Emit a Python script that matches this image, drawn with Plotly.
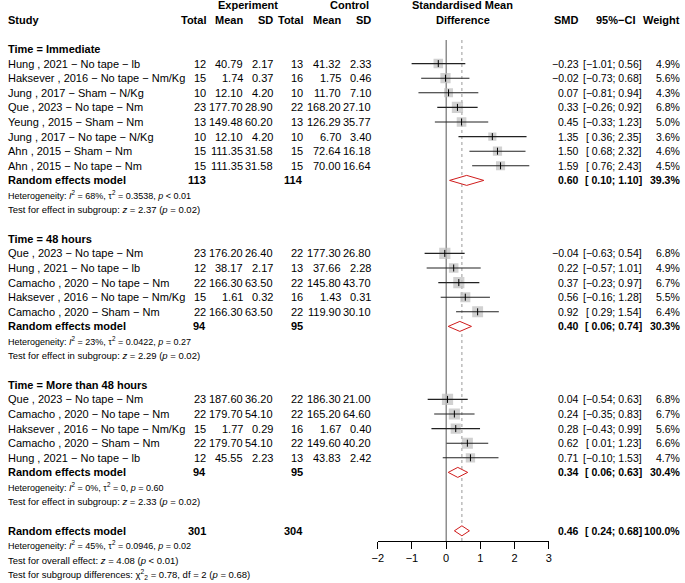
import plotly.graph_objects as go

W, H = 685, 583
FONT = "Liberation Sans, Arial, sans-serif"

# ---------------- data ----------------
group_titles = ["Time = Immediate", "Time = 48 hours", "Time = More than 48 hours"]

study_labels = [
    ["Hung , 2021 \u2212 No tape \u2212 lb", "Haksever , 2016 \u2212 No tape \u2212 Nm/Kg",
     "Jung , 2017 \u2212 Sham \u2212 N/Kg", "Que , 2023 \u2212 No tape \u2212 Nm",
     "Yeung , 2015 \u2212 Sham \u2212 Nm", "Jung , 2017 \u2212 No tape \u2212 N/Kg",
     "Ahn , 2015 \u2212 Sham \u2212 Nm", "Ahn , 2015 \u2212 No tape \u2212 Nm"],
    ["Que , 2023 \u2212 No tape \u2212 Nm", "Hung , 2021 \u2212 No tape \u2212 lb",
     "Camacho , 2020 \u2212 No tape \u2212 Nm", "Haksever , 2016 \u2212 No tape \u2212 Nm/Kg",
     "Camacho , 2020 \u2212 Sham \u2212 Nm"],
    ["Que , 2023 \u2212 No tape \u2212 Nm", "Camacho , 2020 \u2212 No tape \u2212 Nm",
     "Haksever , 2016 \u2212 No tape \u2212 Nm/Kg", "Camacho , 2020 \u2212 Sham \u2212 Nm",
     "Hung , 2021 \u2212 No tape \u2212 lb"],
]
exp_total = [[12, 15, 10, 23, 13, 10, 15, 15], [23, 12, 22, 15, 22], [23, 22, 15, 22, 12]]
exp_mean = [[40.79, 1.74, 12.10, 177.70, 149.48, 12.10, 111.35, 111.35],
            [176.20, 38.17, 166.30, 1.61, 166.30],
            [187.60, 179.70, 1.77, 179.70, 45.55]]
exp_sd = [[2.17, 0.37, 4.20, 28.90, 60.20, 4.20, 31.58, 31.58],
          [26.40, 2.17, 63.50, 0.32, 63.50],
          [36.20, 54.10, 0.29, 54.10, 2.23]]
ctl_total = [[13, 16, 10, 22, 13, 10, 15, 15], [22, 13, 22, 16, 22], [22, 22, 16, 22, 13]]
ctl_mean = [[41.32, 1.75, 11.70, 168.20, 126.29, 6.70, 72.64, 70.00],
            [177.30, 37.66, 145.80, 1.43, 119.90],
            [186.30, 165.20, 1.67, 149.60, 43.83]]
ctl_sd = [[2.33, 0.46, 7.10, 27.10, 35.77, 3.40, 16.18, 16.64],
          [26.80, 2.28, 43.70, 0.31, 30.10],
          [21.00, 64.60, 0.40, 40.20, 2.42]]
smd = [[-0.23, -0.02, 0.07, 0.33, 0.45, 1.35, 1.50, 1.59],
       [-0.04, 0.22, 0.37, 0.56, 0.92],
       [0.04, 0.24, 0.28, 0.62, 0.71]]
ci_lo = [[-1.01, -0.73, -0.81, -0.26, -0.33, 0.36, 0.68, 0.76],
         [-0.63, -0.57, -0.23, -0.16, 0.29],
         [-0.54, -0.35, -0.43, 0.01, -0.10]]
ci_hi = [[0.56, 0.68, 0.94, 0.92, 1.23, 2.35, 2.32, 2.43],
         [0.54, 1.01, 0.97, 1.28, 1.54],
         [0.63, 0.83, 0.99, 1.23, 1.53]]
weight = [[4.9, 5.6, 4.3, 6.8, 5.0, 3.6, 4.6, 4.5],
          [6.8, 4.9, 6.7, 5.5, 6.4],
          [6.8, 6.7, 5.6, 6.6, 4.7]]

grp_exp_total = [113, 94, 94]
grp_ctl_total = [114, 95, 95]
grp_smd = [0.60, 0.40, 0.34]
grp_lo = [0.10, 0.06, 0.06]
grp_hi = [1.10, 0.74, 0.63]
grp_weight = [39.3, 30.3, 30.4]
grp_het = ["<i>I</i><sup>2</sup> = 68%, \u03c4<sup>2</sup> = 0.3538, <i>p</i> &lt; 0.01",
           "<i>I</i><sup>2</sup> = 23%, \u03c4<sup>2</sup> = 0.0422, <i>p</i> = 0.27",
           "<i>I</i><sup>2</sup> = 0%, \u03c4<sup>2</sup> = 0, <i>p</i> = 0.60"]
grp_test = ["<i>z</i> = 2.37 (<i>p</i> = 0.02)",
            "<i>z</i> = 2.29 (<i>p</i> = 0.02)",
            "<i>z</i> = 2.33 (<i>p</i> = 0.02)"]

all_exp_total, all_ctl_total = 301, 304
all_smd, all_lo, all_hi, all_weight = 0.46, 0.24, 0.68, 100.0
all_het = "<i>I</i><sup>2</sup> = 45%, \u03c4<sup>2</sup> = 0.0946, <i>p</i> = 0.02"
all_test = "<i>z</i> = 4.08 (<i>p</i> &lt; 0.01)"
sub_test = "\u03c7<sup>2</sup><sub>2</sub> = 0.78, df = 2 (<i>p</i> = 0.68)"

x_ticks = [-2, -1, 0, 1, 2, 3]

# ---------------- layout helpers ----------------
ROW0, ROWH = 5.2, 14.6          # pixel centre of row 0 and row height
def px_to_row(py):
    return (py - ROW0) / ROWH

AX_L, AX_R = 376.7, 550.0       # pixel span of the SMD axis (-2 .. 3)
AX_Y = 541.0                    # pixel y of the axis line

COL = dict(etot=204, emean=241, esd=272, ctot=302, cmean=340, csd=371,
           smd=582, ci=645, cihdr=638, w=684)
NUM = 10.5   # font size of the right-hand numeric columns
HET = 9.0    # font size of heterogeneity lines
TST = 9.5    # font size of test lines

def m(v):
    return f"{v:.2f}".replace("-", "\u2212")

def fmt_ci(lo, hi):
    s_lo = m(lo) if lo < 0 else " " + m(lo)
    return f"[{s_lo}; {m(hi)}]"

annots = []
def txt(xpx, row, text, anchor="right", bold=False, size=11):
    if bold:
        text = f"<b>{text}</b>"
    annots.append(dict(x=xpx / W, xref="paper", y=row, yref="y", text=text,
                       xanchor=anchor, yanchor="middle", showarrow=False,
                       borderpad=0, font=dict(family=FONT, size=size, color="black")))

# headers
txt(245, 0, "Experiment", "center", True)
txt(348, 0, "Control", "center", True)
txt(463, 0, "Standardised Mean", "center", True)
txt(1, 1, "Study", "left", True)
txt(COL["etot"], 1, "Total", bold=True)
txt(COL["emean"], 1, "Mean", bold=True)
txt(COL["esd"], 1, "SD", bold=True)
txt(COL["ctot"], 1, "Total", bold=True)
txt(COL["cmean"], 1, "Mean", bold=True)
txt(COL["csd"], 1, "SD", bold=True)
txt(463, 1, "Difference", "center", True)
txt(COL["smd"], 1, "SMD", bold=True)
txt(COL["cihdr"], 1, "95%\u2212CI", bold=True)
txt(COL["w"], 1, "Weight", bold=True)

st_rows, st_x, st_lo, st_hi, st_size = [], [], [], [], []
dia_rows, dia_est, dia_lo, dia_hi = [], [], [], []

row = 3
for g in range(len(group_titles)):
    txt(1, row, group_titles[g], "left", True)
    row += 1
    for i in range(len(study_labels[g])):
        txt(1, row, study_labels[g][i], "left")
        txt(COL["etot"], row, str(exp_total[g][i]))
        txt(COL["emean"], row, m(exp_mean[g][i]))
        txt(COL["esd"], row, m(exp_sd[g][i]))
        txt(COL["ctot"], row, str(ctl_total[g][i]))
        txt(COL["cmean"], row, m(ctl_mean[g][i]))
        txt(COL["csd"], row, m(ctl_sd[g][i]))
        txt(COL["smd"], row, m(smd[g][i]), size=NUM)
        txt(COL["ci"], row, fmt_ci(ci_lo[g][i], ci_hi[g][i]), size=NUM)
        txt(COL["w"], row, f"{weight[g][i]:.1f}%", size=NUM)
        st_rows.append(row); st_x.append(smd[g][i])
        st_lo.append(ci_lo[g][i]); st_hi.append(ci_hi[g][i])
        st_size.append(4.3 * weight[g][i] ** 0.5)
        row += 1
    txt(1, row, "Random effects model", "left", True)
    txt(COL["etot"], row, str(grp_exp_total[g]), bold=True)
    txt(COL["ctot"], row, str(grp_ctl_total[g]), bold=True)
    txt(COL["smd"], row, m(grp_smd[g]), bold=True, size=NUM)
    txt(COL["ci"], row, fmt_ci(grp_lo[g], grp_hi[g]), bold=True, size=NUM)
    txt(COL["w"], row, f"{grp_weight[g]:.1f}%", bold=True, size=NUM)
    dia_rows.append(row); dia_est.append(grp_smd[g])
    dia_lo.append(grp_lo[g]); dia_hi.append(grp_hi[g])
    row += 1
    txt(1, row, "Heterogeneity: " + grp_het[g], "left", size=HET)
    row += 1
    txt(1, row, "Test for effect in subgroup: " + grp_test[g], "left", size=TST)
    row += 2

txt(1, row, "Random effects model", "left", True)
txt(COL["etot"], row, str(all_exp_total), bold=True)
txt(COL["ctot"], row, str(all_ctl_total), bold=True)
txt(COL["smd"], row, m(all_smd), bold=True, size=NUM)
txt(COL["ci"], row, fmt_ci(all_lo, all_hi), bold=True, size=NUM)
txt(COL["w"], row, f"{all_weight:.1f}%", bold=True, size=NUM)
dia_rows.append(row); dia_est.append(all_smd); dia_lo.append(all_lo); dia_hi.append(all_hi)
txt(1, row + 1, "Heterogeneity: " + all_het, "left", size=HET)
txt(1, row + 2, "Test for overall effect: " + all_test, "left", size=TST)
txt(1, row + 3, "Test for subgroup differences: " + sub_test, "left", size=TST)

# ---------------- traces ----------------
fig = go.Figure()

# squares
fig.add_trace(go.Scatter(x=st_x, y=st_rows, mode="markers", hoverinfo="skip",
                         marker=dict(symbol="square", size=st_size, color="#bdbdbd",
                                     line=dict(width=0))))
# CI lines
lx, ly = [], []
for r, lo, hi in zip(st_rows, st_lo, st_hi):
    lx += [lo, hi, None]; ly += [r, r, None]
fig.add_trace(go.Scatter(x=lx, y=ly, mode="lines", hoverinfo="skip",
                         line=dict(color="#222222", width=1.1)))
# estimate ticks
fig.add_trace(go.Scatter(x=st_x, y=st_rows, mode="markers", hoverinfo="skip",
                         marker=dict(symbol="line-ns", size=5,
                                     line=dict(color="black", width=1))))
# diamonds
HALF = 5.0 / ROWH
dx, dy = [], []
for r, e, lo, hi in zip(dia_rows, dia_est, dia_lo, dia_hi):
    dx += [lo, e, hi, e, lo, None]
    dy += [r, r - HALF, r, r + HALF, r, None]
fig.add_trace(go.Scatter(x=dx, y=dy, mode="lines", fill="toself", fillcolor="white",
                         hoverinfo="skip", line=dict(color="#d01c1c", width=1)))

# reference lines
top_row, bot_row = px_to_row(40), px_to_row(AX_Y)
shapes = [
    dict(type="line", xref="x", yref="y", x0=0, x1=0, y0=top_row, y1=bot_row,
         line=dict(color="#555555", width=1), layer="below"),
    dict(type="line", xref="x", yref="y", x0=all_smd, x1=all_smd, y0=top_row, y1=bot_row,
         line=dict(color="#9a9a9a", width=1, dash="dot"), layer="below"),
]

fig.update_layout(
    width=W, height=H, margin=dict(l=0, r=0, t=0, b=0),
    paper_bgcolor="white", plot_bgcolor="white", showlegend=False,
    annotations=annots, shapes=shapes,
    xaxis=dict(domain=[AX_L / W, AX_R / W], range=[-2, 3], anchor="free",
               position=1 - AX_Y / H, showline=True, linecolor="black", linewidth=1,
               ticks="outside", ticklen=7, tickwidth=1, tickcolor="black",
               tickvals=x_ticks, ticktext=[str(t).replace("-", "\u2212") for t in x_ticks],
               tickfont=dict(family=FONT, size=11, color="black"),
               showgrid=False, zeroline=False, fixedrange=True),
    yaxis=dict(domain=[0, 1], range=[px_to_row(H), px_to_row(0)], visible=False,
               showgrid=False, zeroline=False, fixedrange=True),
)

fig.write_html("out.html", config={"displayModeBar": False, "staticPlot": True},
               post_script="document.body.style.margin='0';document.body.style.overflow='hidden';")
